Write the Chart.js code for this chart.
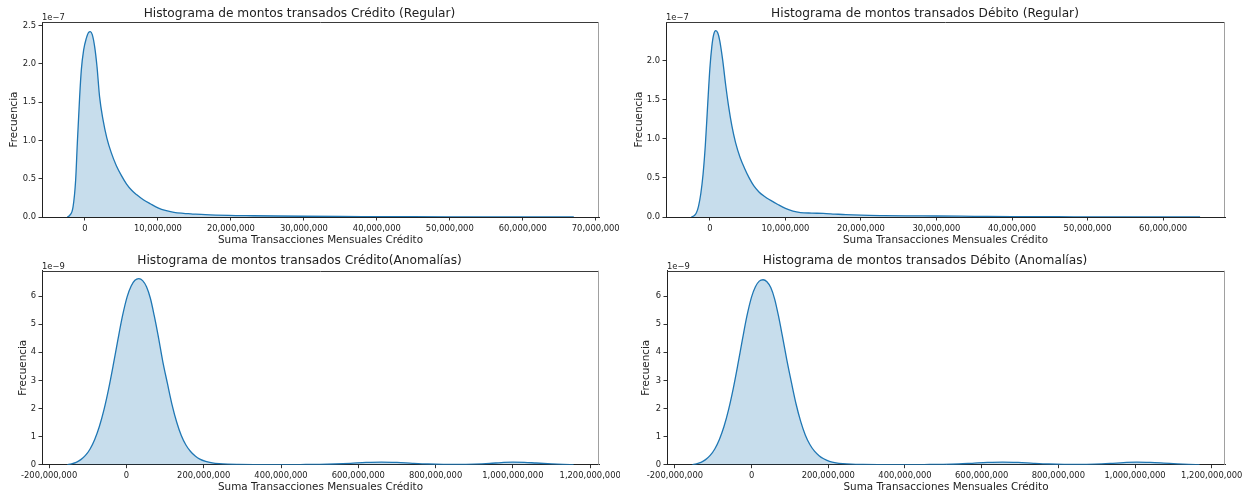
<!DOCTYPE html>
<html>
<head>
<meta charset="utf-8">
<script src="https://cdn.jsdelivr.net/npm/chart.js@4.4.1/dist/chart.umd.min.js"></script>
<style>
  html, body { margin: 0; padding: 0; background: #fff; }
  #wrap { position: relative; width: 1249px; height: 492px; overflow: hidden; }
  canvas { position: absolute; }
</style>
</head>
<body>
<div id="wrap">
  <canvas id="c1" width="620" height="250" style="left:0;top:0"></canvas>
  <canvas id="c2" width="624" height="250" style="left:625px;top:0"></canvas>
  <canvas id="c3" width="620" height="242" style="left:0;top:250px"></canvas>
  <canvas id="c4" width="624" height="242" style="left:625px;top:250px"></canvas>
</div>
<script>
// x values in millions, densities in units of the axis multiplier (1e-7 / 1e-9)
const creditRegX = [-2.42, -2.1, -1.64, -1.28, -1.05, -0.73, -0.5, -0.18, 0.18, 0.5, 0.74, 1.0, 1.33, 1.65, 2.0, 2.47, 3.0, 3.6, 4.3, 5.0, 5.7, 6.4, 7.1, 8.0, 9.0, 10.0, 11.0, 12.2, 13.5, 14.5, 16.5, 19.7, 23, 26.2, 30, 35, 40, 45, 50, 55, 60, 67];
const creditRegY = [0, 0.02, 0.13, 0.48, 0.96, 1.57, 1.92, 2.18, 2.33, 2.41, 2.42, 2.38, 2.22, 1.96, 1.57, 1.27, 1.03, 0.84, 0.67, 0.54, 0.43, 0.35, 0.29, 0.225, 0.17, 0.12, 0.085, 0.06, 0.048, 0.042, 0.03, 0.02, 0.016, 0.013, 0.01, 0.007, 0.005, 0.003, 0.002, 0.0012, 0.0006, 0];

const debitRegX = [-2.45, -2.1, -1.8, -1.5, -1.2, -0.9, -0.6, -0.3, 0.0, 0.26, 0.5, 0.78, 1.05, 1.31, 1.7, 2.1, 2.5, 2.9, 3.4, 4.0, 4.6, 5.2, 5.8, 6.5, 7.2, 8.0, 9.0, 10.0, 11.0, 12.0, 13.5, 15, 16.5, 18, 20, 23, 26, 30, 35, 40, 46, 52, 58, 64.9];
const debitRegY = [0, 0.015, 0.05, 0.14, 0.3, 0.55, 0.92, 1.42, 1.9, 2.18, 2.33, 2.38, 2.35, 2.25, 2.0, 1.68, 1.4, 1.17, 0.95, 0.76, 0.62, 0.5, 0.4, 0.32, 0.265, 0.215, 0.16, 0.11, 0.075, 0.057, 0.05, 0.046, 0.038, 0.03, 0.023, 0.018, 0.015, 0.013, 0.009, 0.005, 0.003, 0.002, 0.001, 0];

const creditAnomX = [-153, -142, -130, -118, -106, -94, -82, -70, -58, -46, -34, -22, -10, 2, 12, 22, 32, 42, 52, 62, 72, 82, 94, 106, 118, 130, 142, 154, 166, 178, 190, 205, 222, 240, 262, 290, 330, 400, 450, 500, 540, 580, 620, 660, 700, 740, 780, 820, 860, 900, 940, 970, 1000, 1030, 1060, 1100, 1130, 1157];
const creditAnomY = [0, 0.03, 0.08, 0.18, 0.33, 0.56, 0.9, 1.36, 1.96, 2.7, 3.55, 4.45, 5.3, 5.98, 6.35, 6.56, 6.62, 6.55, 6.33, 5.92, 5.3, 4.6, 3.68, 2.9, 2.14, 1.52, 1.04, 0.7, 0.47, 0.31, 0.2, 0.12, 0.065, 0.035, 0.017, 0.009, 0.005, 0.004, 0.006, 0.01, 0.025, 0.05, 0.08, 0.095, 0.08, 0.05, 0.025, 0.012, 0.01, 0.02, 0.045, 0.075, 0.095, 0.085, 0.06, 0.03, 0.012, 0];

const debitAnomX = [-154.5, -144, -132, -120, -108, -96, -84, -72, -60, -48, -36, -24, -12, 0, 10, 20, 30, 40, 50, 60, 70, 80, 92, 104, 116, 128, 140, 152, 164, 176, 188, 203, 220, 238, 260, 290, 330, 400, 450, 500, 540, 575, 615, 655, 695, 735, 775, 815, 855, 895, 935, 970, 1005, 1040, 1075, 1110, 1140, 1168];
const debitAnomY = [0, 0.03, 0.08, 0.18, 0.33, 0.56, 0.9, 1.36, 1.96, 2.7, 3.55, 4.45, 5.3, 5.97, 6.33, 6.53, 6.58, 6.51, 6.3, 5.9, 5.3, 4.6, 3.72, 2.92, 2.16, 1.54, 1.06, 0.72, 0.48, 0.32, 0.21, 0.12, 0.066, 0.036, 0.018, 0.009, 0.005, 0.004, 0.006, 0.01, 0.025, 0.05, 0.08, 0.095, 0.08, 0.05, 0.025, 0.012, 0.01, 0.02, 0.045, 0.075, 0.095, 0.083, 0.058, 0.03, 0.012, 0];

const regularXTicks = [0, 10, 20, 30, 40, 50, 60, 70];
const anomXTicks = [-200, 0, 200, 400, 600, 800, 1000, 1200];
const regularYTicks = [0, 0.5, 1.0, 1.5, 2.0, 2.5];
const anomYTicks = [0, 1, 2, 3, 4, 5, 6];

const MILLION = 1e6;
const FONT = 'DejaVu Sans';
const TXT = '#222';

// matplotlib-like frame: top/right spines + offset text
const framePlugin = {
  id: 'frame',
  afterDraw(chart, args, opts) {
    const { ctx, chartArea: a } = chart;
    ctx.save();
    ctx.lineWidth = 1;
    ctx.strokeStyle = '#3a3a3a';
    ctx.beginPath();
    ctx.moveTo(a.left, Math.round(a.top) + 0.5);
    ctx.lineTo(a.right, Math.round(a.top) + 0.5);
    ctx.stroke();
    ctx.strokeStyle = '#a0a0a0';
    ctx.beginPath();
    ctx.moveTo(Math.round(a.right) - 0.5, a.top);
    ctx.lineTo(Math.round(a.right) - 0.5, a.bottom);
    ctx.stroke();
    ctx.fillStyle = TXT;
    ctx.font = '8.4px "' + FONT + '"';
    ctx.textAlign = 'left';
    ctx.textBaseline = 'alphabetic';
    ctx.fillText(opts.offsetText, a.left, a.top - 2);
    ctx.restore();
  }
};

function makeChart(id, s) {
  const pts = s.xs.map((x, i) => ({ x: x * MILLION, y: s.ys[i] }));
  return new Chart(document.getElementById(id), {
    type: 'line',
    data: {
      datasets: [{
        data: pts,
        borderColor: '#1f77b4',
        backgroundColor: 'rgba(31,119,180,0.25)',
        borderWidth: 1.3,
        pointRadius: 0,
        fill: 'origin',
        cubicInterpolationMode: 'monotone'
      }]
    },
    options: {
      responsive: false,
      animation: false,
      layout: { padding: { left: 0, right: s.padRight, top: 0, bottom: 0 } },
      plugins: {
        legend: { display: false },
        tooltip: { enabled: false },
        title: {
          display: true,
          text: s.title,
          color: TXT,
          font: { family: FONT, size: 12.2, weight: 'normal', lineHeight: 1.2 },
          padding: { top: s.titleTop, bottom: s.titleBottom }
        },
        frame: { offsetText: s.offsetText }
      },
      scales: {
        x: {
          type: 'linear',
          min: s.xMin * MILLION,
          max: s.xMax * MILLION,
          afterBuildTicks: sc => {
            sc.ticks = s.xTicks.filter(v => v >= s.xMin && v <= s.xMax).map(v => ({ value: v * MILLION }));
          },
          afterFit: sc => { sc.height = s.xAxisH; sc.paddingLeft = 0; sc.paddingRight = 0; },
          grid: { drawOnChartArea: false, drawTicks: true, tickLength: 3.5, tickColor: '#333' },
          border: { display: true, color: '#222', width: 1 },
          ticks: {
            autoSkip: false, maxRotation: 0, color: TXT, padding: s.xTickPad,
            font: { family: FONT, size: 8.4, lineHeight: 1.2 },
            callback: v => Math.round(v).toLocaleString('en-US')
          },
          title: {
            display: true, text: 'Suma Transacciones Mensuales Crédito', color: TXT,
            font: { family: FONT, size: 10.4, lineHeight: 1 },
            padding: { top: 0, bottom: s.xTitlePad }
          }
        },
        y: {
          min: 0,
          max: s.yMax,
          afterBuildTicks: sc => {
            sc.ticks = s.yTicks.filter(v => v <= s.yMax).map(v => ({ value: v }));
          },
          afterFit: sc => { sc.width = s.yAxisW; sc.paddingTop = 0; sc.paddingBottom = 0; },
          grid: { drawOnChartArea: false, drawTicks: true, tickLength: 3.5, tickColor: '#333' },
          border: { display: true, color: '#222', width: 1 },
          ticks: {
            autoSkip: false, color: TXT, padding: 2.5,
            font: { family: FONT, size: 8.4, lineHeight: 1.2 },
            callback: v => v.toFixed(s.yDecimals)
          },
          title: {
            display: true, text: 'Frecuencia', color: TXT,
            font: { family: FONT, size: 10.4, lineHeight: 1 },
            padding: { top: s.yTitlePad, bottom: 0 }
          }
        }
      }
    },
    plugins: [framePlugin]
  });
}

const topRow = { titleTop: 6.2, titleBottom: 1.2, xAxisH: 33, xTickPad: 3.6, xTitlePad: 4.4, yDecimals: 1, yTicks: regularYTicks, offsetText: '1e\u22127' };
const botRow = { titleTop: 3.4, titleBottom: 2.7, xAxisH: 27.3, xTickPad: 2.2, xTitlePad: 0, yDecimals: 0, yTicks: anomYTicks, offsetText: '1e\u22129' };

makeChart('c1', Object.assign({}, topRow, {
  title: 'Histograma de montos transados Crédito (Regular)',
  xs: creditRegX, ys: creditRegY, xTicks: regularXTicks,
  xMin: -5.89, xMax: 70.45, yMax: 2.544,
  yAxisW: 42, padRight: 21, yTitlePad: 9.5
}));

makeChart('c2', Object.assign({}, topRow, {
  title: 'Histograma de montos transados Débito (Regular)',
  xs: debitRegX, ys: debitRegY, xTicks: regularXTicks,
  xMin: -5.81, xMax: 68.2, yMax: 2.49,
  yAxisW: 41, padRight: 24, yTitlePad: 9
}));

makeChart('c3', Object.assign({}, botRow, {
  title: 'Histograma de montos transados Crédito(Anomalías)',
  xs: creditAnomX, ys: creditAnomY, xTicks: anomXTicks,
  xMin: -218.4, xMax: 1222.8, yMax: 6.9,
  yAxisW: 42, padRight: 21, yTitlePad: 17.8
}));

makeChart('c4', Object.assign({}, botRow, {
  title: 'Histograma de montos transados Débito (Anomalías)',
  xs: debitAnomX, ys: debitAnomY, xTicks: anomXTicks,
  xMin: -220.6, xMax: 1234.6, yMax: 6.9,
  yAxisW: 42, padRight: 24, yTitlePad: 16.5
}));
</script>
</body>
</html>
